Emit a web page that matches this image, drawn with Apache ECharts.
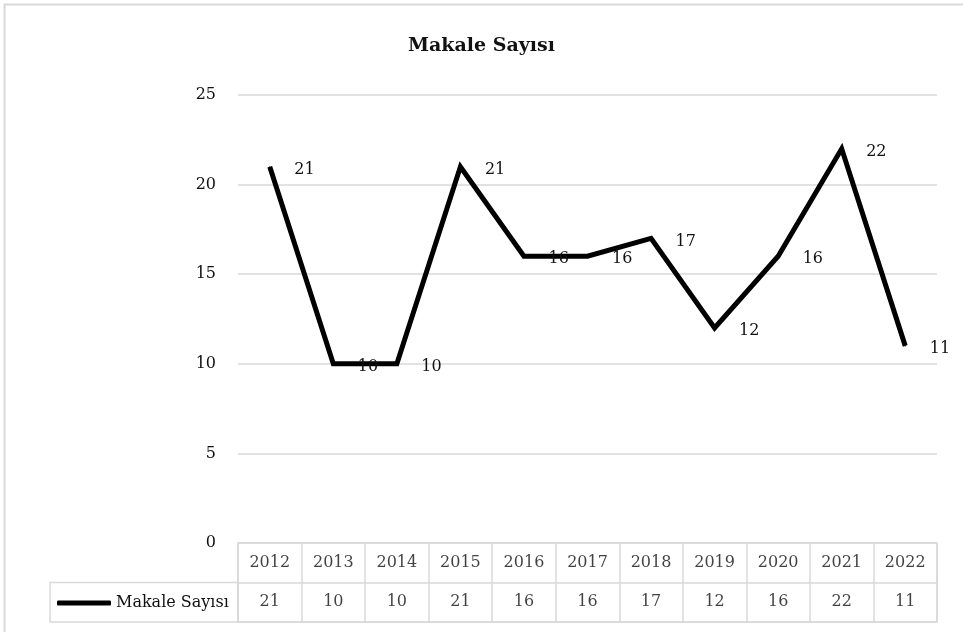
<!DOCTYPE html>
<html>
<head>
<meta charset="utf-8">
<script src="https://cdn.jsdelivr.net/npm/echarts@6/dist/echarts.min.js"></script>
<style>html,body{margin:0;padding:0;background:#fff}#c{width:963px;height:632px}</style>
</head>
<body>
<div id="c"></div>
<script>
var title = 'Makale Sayısı';
var seriesName = 'Makale Sayısı';
var years = ['2012','2013','2014','2015','2016','2017','2018','2019','2020','2021','2022'];
var values = [21, 10, 10, 21, 16, 16, 17, 12, 16, 22, 11];
var yTicks = {min: 0, max: 25, interval: 5};

var FONT = 'DejaVu Serif';
var TXT = '#111';
var GRID = '#d9d9d9';
var FS = 16;

var chart = echarts.init(document.getElementById('c'), null, {renderer: 'canvas'});
chart.setOption({
  animation: false,
  backgroundColor: '#fff',
  title: {
    text: title, left: 'center', top: 32,
    textStyle: {fontFamily: FONT, fontWeight: 'bold', fontSize: 19, color: TXT}
  },
  legend: {
    data: [seriesName], left: 57, top: 595, padding: 0,
    icon: 'roundRect', itemWidth: 54, itemHeight: 5,
    itemStyle: {color: '#000'},
    textStyle: {fontFamily: FONT, fontSize: FS, color: TXT}
  },
  grid: [
    {left: 238, right: 26, top: 95, bottom: 89},
    {left: 238, right: 26, top: 543, height: 79, show: true, borderColor: GRID, borderWidth: 1.5}
  ],
  xAxis: [
    {gridIndex: 0, type: 'category', data: years, boundaryGap: true,
     axisLine: {show: false}, axisTick: {show: false}, axisLabel: {show: false}},
    {gridIndex: 1, type: 'category', data: years, boundaryGap: true,
     axisLine: {show: false}, axisTick: {show: false}, axisLabel: {show: false},
     splitLine: {show: true, interval: 0, lineStyle: {color: GRID, width: 1.5}}}
  ],
  yAxis: [
    {gridIndex: 0, type: 'value', min: yTicks.min, max: yTicks.max, interval: yTicks.interval,
     axisLine: {show: false}, axisTick: {show: false},
     axisLabel: {fontFamily: FONT, fontSize: FS, color: TXT, margin: 22},
     splitLine: {lineStyle: {color: GRID, width: 1.5}}},
    {gridIndex: 1, type: 'category', data: ['val', 'yr'],
     axisLine: {show: false}, axisTick: {show: false}, axisLabel: {show: false},
     splitLine: {show: true, interval: 0, lineStyle: {color: GRID, width: 1.5}}}
  ],
  series: [
    {
      name: seriesName, type: 'line', xAxisIndex: 0, yAxisIndex: 0,
      data: values, symbol: 'circle', symbolSize: 1, showSymbol: true,
      itemStyle: {color: '#000'},
      lineStyle: {color: '#000', width: 5, join: 'miter', cap: 'butt'},
      label: {show: true, position: 'right', distance: 24, offset: [0, 3],
              fontFamily: FONT, fontSize: FS, color: TXT}
    },
    {
      type: 'scatter', xAxisIndex: 1, yAxisIndex: 1, symbolSize: 0, silent: true,
      data: years.map(function (y) { return [y, 'yr']; }),
      label: {show: true, position: 'inside', fontFamily: FONT, fontSize: FS, color: TXT,
              formatter: function (p) { return p.value[0]; }}
    },
    {
      type: 'scatter', xAxisIndex: 1, yAxisIndex: 1, symbolSize: 0, silent: true,
      data: values.map(function (v, i) { return [years[i], 'val', v]; }),
      label: {show: true, position: 'inside', fontFamily: FONT, fontSize: FS, color: TXT,
              formatter: function (p) { return String(p.value[2]); }}
    }
  ],
  graphic: [
    {type: 'rect', silent: true, shape: {x: 4.5, y: 4.5, width: 1000, height: 700},
     style: {fill: null, stroke: GRID, lineWidth: 2}},
    {type: 'rect', silent: true, shape: {x: 50, y: 582.5, width: 188, height: 39.5},
     style: {fill: null, stroke: GRID, lineWidth: 1.5}}
  ]
});
</script>
</body>
</html>
